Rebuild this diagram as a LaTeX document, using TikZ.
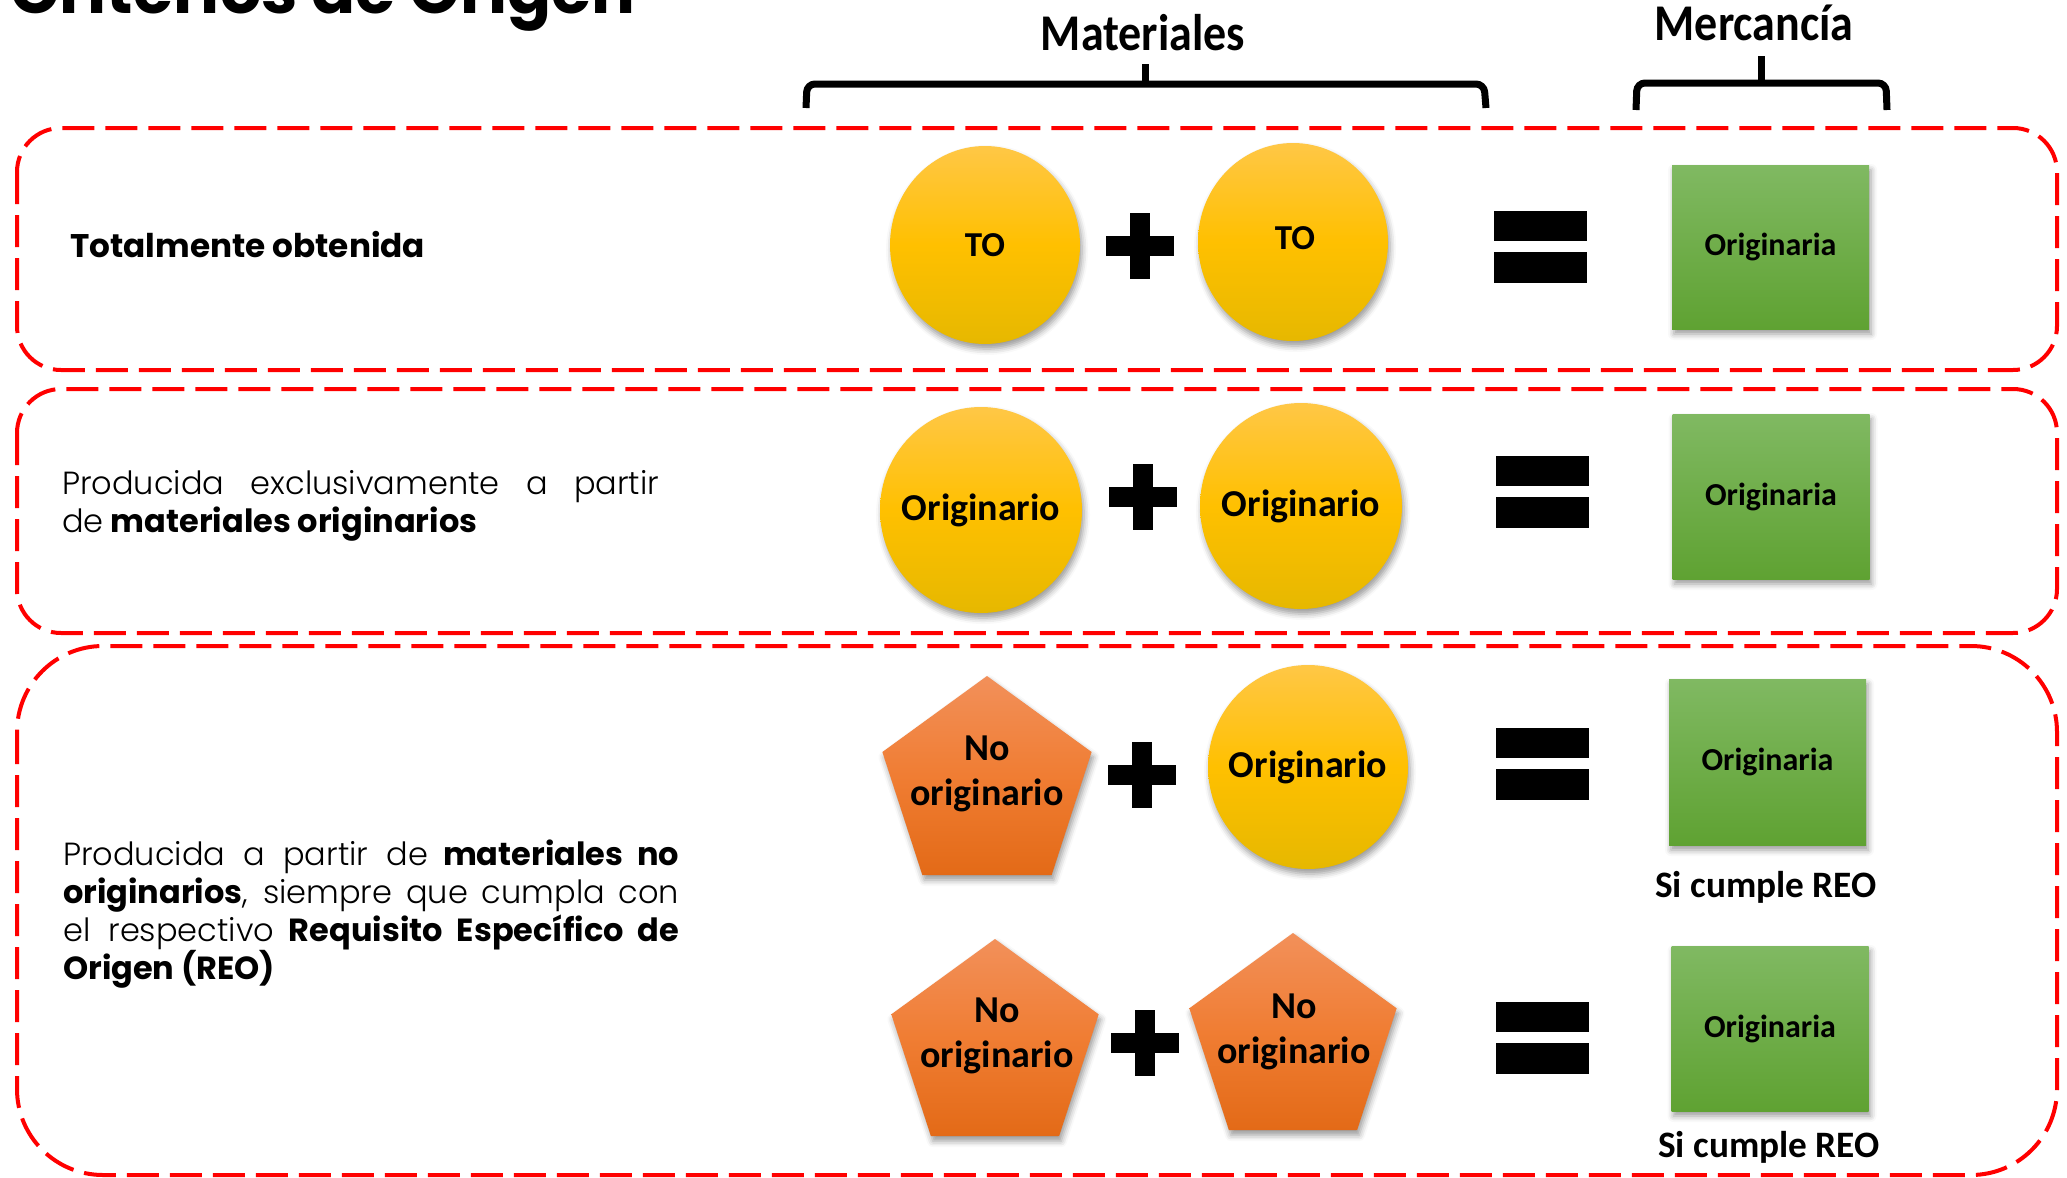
\documentclass[tikz,border=0pt]{standalone}
\usepackage{fontspec}
\setmainfont{Carlito}
\newfontfamily\pop{Poppins}
\IfFontExistsTF{Poppins Light}{\newfontfamily\popl{Poppins Light}}{\newfontfamily\popl{Poppins}}
\usetikzlibrary{shapes.geometric,shadows.blur}
\definecolor{dred}{HTML}{FF0000}
\definecolor{yTop}{HTML}{FFC746}
\definecolor{yMid}{HTML}{FFC000}
\definecolor{yBot}{HTML}{E6B800}
\definecolor{oTop}{HTML}{F2905A}
\definecolor{oMid}{HTML}{F07D33}
\definecolor{oBot}{HTML}{E36A17}
\definecolor{gTop}{HTML}{80B962}
\definecolor{gBot}{HTML}{5FA232}
\newcommand{\lt}[1]{{\popl #1}}
\newcommand{\bd}[1]{{\pop\bfseries #1}}
\tikzset{
  dashbox/.style={draw=dred, line width=4pt, dash pattern=on 32pt off 11pt},
  bracepen/.style={draw=black, line width=7pt},
  shd/.style={blur shadow={shadow xshift=2pt, shadow yshift=-5pt, shadow blur radius=6pt, shadow opacity=40}},
  yel/.style={ellipse, inner sep=0pt, shd, top color=yTop, bottom color=yBot, middle color=yMid},
  ora/.style={regular polygon, regular polygon sides=5, inner sep=0pt, shd, top color=oTop, bottom color=oBot, middle color=oMid},
  grn/.style={rectangle, inner sep=0pt, shd, top color=gTop, bottom color=gBot, minimum width=197pt},
  shtxt/.style={inner sep=0pt, align=center, font=\bfseries\fontsize{38}{45}\selectfont},
  boxtxt/.style={inner sep=0pt, font=\bfseries\fontsize{32}{36}\selectfont},
  reotxt/.style={inner sep=0pt, font=\bfseries\fontsize{37.3}{40}\selectfont},
  headtxt/.style={inner sep=0pt, anchor=base, yscale=1.12, font=\bfseries\fontsize{46}{50}\selectfont},
  para/.style={inner sep=0pt, anchor=base west, font=\fontsize{32}{38}\selectfont},
  plussign/.pic={\fill (-34,-10) rectangle (34,10); \fill (-10,-33) rectangle (10,33);},
  eqsign/.pic={\fill (-46.5,-36) rectangle (46.5,-6); \fill (-46.5,5) rectangle (46.5,36);}
}
\begin{document}
\begin{tikzpicture}[x=1pt,y=-1pt]
\useasboundingbox (0,0) rectangle (2067,1178);
% title (cut off at top edge, as in the reference)
\node[inner sep=0pt, anchor=base west, font=\pop\bfseries\fontsize{65}{68}\selectfont] (title) at (10,13) {Criterios de Origen};
% headers
\node[headtxt] (mat) at (1143,50) {Materiales};
\node[headtxt] (mer) at (1754,40) {Mercancía};
\draw[bracepen, rounded corners=8pt] (806,108) -- (807,84) -- (1484,84) -- (1486,108);
\draw[bracepen] (1145,86) -- (1145,64);
\draw[bracepen, rounded corners=8pt] (1636,110) -- (1637,83) -- (1886,83) -- (1887,110);
\draw[bracepen] (1761,85) -- (1761,56);
% dashed boxes
\draw[dashbox, rounded corners=44pt] (17,128) rectangle (2057,370);
\draw[dashbox, rounded corners=44pt] (17,389) rectangle (2057,633);
\draw[dashbox, rounded corners=86pt] (17,646) rectangle (2057,1175);
% row 1
\node[para, font=\pop\bfseries\fontsize{32.7}{38}\selectfont] (t1) at (70,257) {Totalmente obtenida};
\node[yel, minimum width=190pt, minimum height=198pt] (c11) at (985,245) {};
\node[shtxt, font=\bfseries\fontsize{35}{40}\selectfont] at (c11.center) {TO};
\pic at (1140,246) {plussign};
\node[yel, minimum width=190pt, minimum height=198pt] (c12) at (1293,242) {};
\node[shtxt, font=\bfseries\fontsize{35}{40}\selectfont] at (1295,238) {TO};
\pic at (1540.5,247) {eqsign};
\node[grn, minimum height=164pt] (g1) at (1770.5,247) {};
\node[boxtxt] at (g1.center) {Originaria};
% row 2
\node[para] (t21) at (62,494) {\makebox[597pt][s]{\lt{Producida exclusivamente a partir}}};
\node[para] (t22) at (62,532) {\lt{de} \bd{materiales originarios}};
\node[yel, minimum width=202pt, minimum height=206pt] (c21) at (981,510) {};
\node[shtxt] at (c21.center) {Originario};
\pic at (1143,497) {plussign};
\node[yel, minimum width=202pt, minimum height=206pt] (c22) at (1301,506) {};
\node[shtxt] at (c22.center) {Originario};
\pic at (1542,491.5) {eqsign};
\node[grn, minimum height=165pt] (g2) at (1771,496.5) {};
\node[boxtxt] at (g2.center) {Originaria};
% row 3 text
\node[para] (t31) at (63,865) {\makebox[616pt][s]{\lt{Producida a partir de} \bd{materiales no}}};
\node[para] (t32) at (63,903) {\makebox[616pt][s]{\bd{originarios}\lt{, siempre que cumpla con}}};
\node[para] (t33) at (63,941) {\makebox[616pt][s]{\lt{el respectivo} \bd{Requisito Específico de}}};
\node[para] (t34) at (63,979) {\bd{Origen (REO)}};
% row 3a
\node[ora, minimum size=220pt] (p31) at (987,786) {};
\node[shtxt] at (987,774) {No\\originario};
\pic at (1142,775) {plussign};
\node[yel, minimum width=200pt, minimum height=204pt] (c31) at (1308,767) {};
\node[shtxt] at (c31.center) {Originario};
\pic at (1542,763.5) {eqsign};
\node[grn, minimum height=166pt] (g3) at (1767.5,762) {};
\node[boxtxt] at (g3.center) {Originaria};
\node[reotxt] (r3) at (1766,887) {Si cumple REO};
% row 3b
\node[ora, minimum size=218pt] (p32) at (995,1048) {};
\node[shtxt] at (997,1036) {No\\originario};
\pic at (1145,1043) {plussign};
\node[ora, minimum size=218pt] (p33) at (1293,1042) {};
\node[shtxt] at (1294,1032) {No\\originario};
\pic at (1542,1037.5) {eqsign};
\node[grn, minimum height=165pt] (g4) at (1770,1028.5) {};
\node[boxtxt] at (g4.center) {Originaria};
\node[reotxt] (r4) at (1769,1147) {Si cumple REO};
\end{tikzpicture}
\end{document}
